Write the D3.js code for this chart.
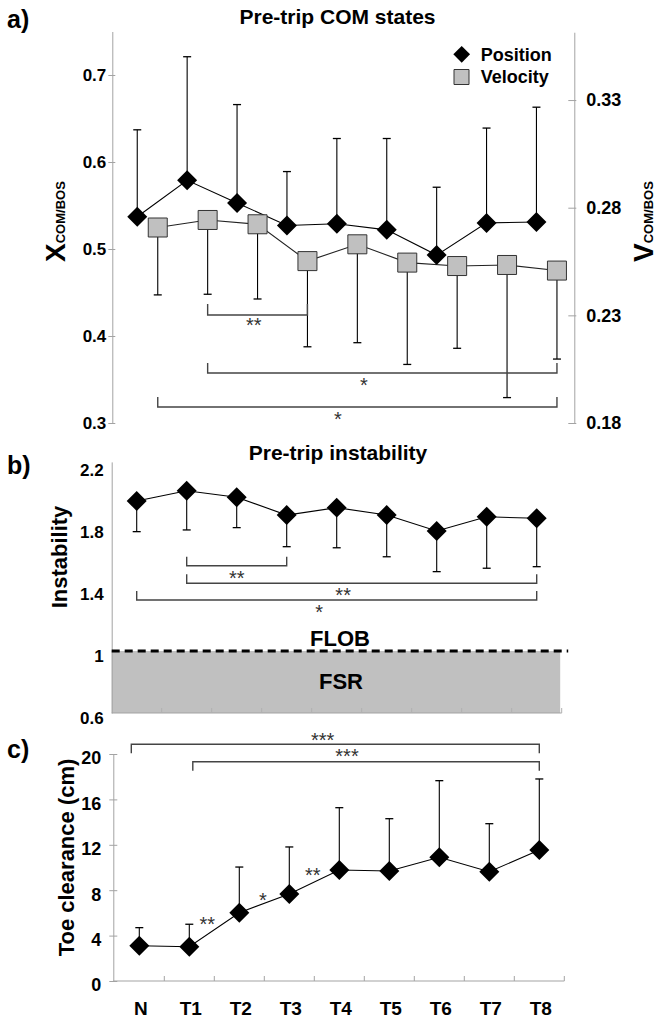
<!DOCTYPE html>
<html><head><meta charset="utf-8">
<script src="https://cdn.jsdelivr.net/npm/d3@7"></script>
<style>
body{margin:0;background:#fff}
svg{display:block}
text{font-family:"Liberation Sans",Arial,Helvetica,sans-serif}
</style>
</head><body>
<svg id="chart" width="661" height="1024"></svg>
<script>
// ---------- DATA ----------
const categories = ["N","T1","T2","T3","T4","T5","T6","T7","T8"];
// a) Pre-trip COM states
const positionMean  = [0.537,0.579,0.553,0.527,0.529,0.522,0.493,0.530,0.531];
const positionUpper = [0.637,0.721,0.666,0.589,0.627,0.627,0.571,0.639,0.663];
const velocityMean  = [0.2708,0.2743,0.2723,0.2552,0.2630,0.2545,0.2529,0.2534,0.2508];
const velocityLower = [0.2395,0.2398,0.2376,0.2154,0.2173,0.2072,0.2147,0.1918,0.2097];
const positionTicks = [0.3,0.4,0.5,0.6,0.7];
const velocityTicks = [0.18,0.23,0.28,0.33];
// b) Pre-trip instability
const instabilityMean  = [1.968,2.034,1.992,1.877,1.925,1.877,1.774,1.866,1.856];
const instabilityLower = [1.770,1.781,1.796,1.673,1.666,1.608,1.512,1.534,1.544];
const instabilityTicks = [0.6,1,1.4,1.8,2.2];
const flobValue = 1.0;
// c) Toe clearance
const toeMean  = [3.11,3.02,6.02,7.67,9.78,9.69,10.90,9.63,11.54];
const toeUpper = [4.70,5.00,10.04,11.81,15.27,14.30,17.65,13.86,17.80];
const toeTicks = [0,4,8,12,16,20];
// significance annotations
const sigA = [["T1","T3","**"],["T1","T8","*"],["N","T8","*"]];
const sigB = [["T1","T3","**"],["T1","T8","**"],["N","T8","*"]];
const sigC = [["N","T8","***"],["T1","T8","***"]];
const sigCSteps = [["T1","T2","**"],["T2","T3","*"],["T3","T4","**"]];

// ---------- HELPERS ----------
const svg = d3.select("#chart");
const AXC = "#a3a3a3";
const diamond = d3.symbol(d3.symbolSquare, 200);
const diamondSmall = d3.symbol(d3.symbolSquare, 140);
const squareSym = d3.symbol(d3.symbolSquare, 361);
const legendSquare = d3.symbol(d3.symbolSquare, 225);

function styleAxis(g, size){
  g.selectAll("path.domain").attr("stroke", AXC).attr("stroke-width",1);
  g.selectAll(".tick line").attr("stroke", AXC);
  g.selectAll(".tick text").attr("fill","#000").attr("font-weight","bold")
    .attr("font-size", size).attr("font-family",'"Liberation Sans",Arial,sans-serif');
}
function errorBars(g, xs, y, means, ends, capW){
  const d = means.map((m,i)=>({x:xs[i], m, e:ends[i]}));
  g.selectAll(null).data(d).join("line")
    .attr("x1",d=>d.x).attr("x2",d=>d.x)
    .attr("y1",d=>y(d.m)).attr("y2",d=>y(d.e))
    .attr("stroke","#000").attr("stroke-width",1.1);
  g.selectAll(null).data(d).join("line")
    .attr("x1",d=>d.x-capW/2).attr("x2",d=>d.x+capW/2)
    .attr("y1",d=>y(d.e)).attr("y2",d=>y(d.e))
    .attr("stroke","#000").attr("stroke-width",1.3);
}
function stars(g, x, y, txt){
  g.append("text").attr("x",x).attr("y",y+10).attr("text-anchor","middle")
    .attr("font-family",'"Liberation Serif","Times New Roman",serif')
    .attr("font-size",20).attr("fill","#333").text(txt);
}
function bracket(g, x1, x2, yLine, yEnd, labelX, labelY, txt){
  g.append("path")
    .attr("d",`M${x1},${yEnd}V${yLine}H${x2}V${yEnd}`)
    .attr("fill","none").attr("stroke","#444").attr("stroke-width",1.4);
  stars(g, labelX, labelY, txt);
}
function panelLabel(txt, y){
  svg.append("text").attr("x",7).attr("y",y).attr("font-size",25)
    .attr("font-weight","bold").text(txt);
}
function title(txt, x, y){
  svg.append("text").attr("x",x).attr("y",y).attr("text-anchor","middle")
    .attr("font-size",21).attr("font-weight","bold").text(txt);
}
function subLabel(x, y, main, sub){
  const t = svg.append("text").attr("transform",`translate(${x},${y}) rotate(-90)`)
    .attr("font-weight","bold");
  t.append("tspan").attr("font-size",28).text(main);
  t.append("tspan").attr("font-size",13).text(sub);
}

// ---------- PANEL A ----------
const gA = svg.append("g");
const xA = d3.scaleBand().domain(categories).range([112.3, 561.4]);
const cA = c => xA(c) + xA.bandwidth()/2;
const vOff = 20.5;
const yPos = d3.scaleLinear().domain([0.3,0.75]).range([423, 423-0.45*870]);
const yVel = d3.scaleLinear().domain([0.18,0.3615]).range([423, 423-0.1815*2153]);

const axL = gA.append("g").attr("transform","translate(112.3,0)")
  .call(d3.axisLeft(yPos).tickValues(positionTicks).tickFormat(d3.format(".1f")).tickSizeInner(4).tickSizeOuter(0).tickPadding(2));
axL.selectAll(".tick line").attr("x2",3).attr("x1",-4);
styleAxis(axL, 17);
const axR = gA.append("g").attr("transform","translate(574.3,0)")
  .call(d3.axisRight(yVel).tickValues(velocityTicks).tickFormat(d3.format(".2f")).tickSizeInner(-6).tickSizeOuter(0).tickPadding(12));
axR.selectAll(".tick line").attr("x2",-6).attr("x1",2);
styleAxis(axR, 18);

const posX = categories.map(cA);
const velX = categories.map(c=>cA(c)+vOff);
// error bars
errorBars(gA, posX, yPos, positionMean, positionUpper, 8);
errorBars(gA, velX, yVel, velocityMean, velocityLower, 8);
// lines
gA.append("path").datum(velocityMean)
  .attr("d", d3.line().x((d,i)=>velX[i]).y(d=>yVel(d)))
  .attr("fill","none").attr("stroke","#222").attr("stroke-width",1.1);
gA.append("path").datum(positionMean)
  .attr("d", d3.line().x((d,i)=>posX[i]).y(d=>yPos(d)))
  .attr("fill","none").attr("stroke","#000").attr("stroke-width",1.1);
// markers
gA.selectAll(null).data(velocityMean).join("path")
  .attr("d", squareSym).attr("transform",(d,i)=>`translate(${velX[i]},${yVel(d)})`)
  .attr("fill","#c0c0c0").attr("stroke","#333").attr("stroke-width",1);
gA.selectAll(null).data(positionMean).join("path")
  .attr("d", diamond).attr("transform",(d,i)=>`translate(${posX[i]},${yPos(d)}) rotate(45)`)
  .attr("fill","#000");
// brackets
const bracketLayoutA = [[315,304,0.463,322],[373,363,0.447,382],[407,397,0.451,416]];
sigA.forEach((s,i)=>{
  const [yl, ye, f, ly] = bracketLayoutA[i];
  const x1 = cA(s[0])+vOff, x2 = cA(s[1])+vOff;
  bracket(gA, x1, x2, yl, ye, x1+(x2-x1)*f, ly, s[2]);
});
// legend
gA.append("path").attr("d", diamondSmall).attr("transform","translate(461.7,54.3) rotate(45)").attr("fill","#000");
gA.append("text").attr("x",480.7).attr("y",60.8).attr("font-size",18).attr("font-weight","bold").text("Position");
gA.append("path").attr("d", legendSquare).attr("transform","translate(461.5,77)").attr("fill","#c0c0c0").attr("stroke","#333");
gA.append("text").attr("x",480.7).attr("y",83).attr("font-size",18).attr("font-weight","bold").text("Velocity");
panelLabel("a)", 28);
title("Pre-trip COM states", 337.5, 24);
subLabel(65, 262, "X", "COM/BOS");
subLabel(653, 262, "V", "COM/BOS");

// ---------- PANEL B ----------
const gB = svg.append("g");
const xB = d3.scaleBand().domain(categories).range([111.7, 561.7]);
const cB = c => xB(c) + xB.bandwidth()/2;
const yInst = d3.scaleLinear().domain([0.6,2.22]).range([713, 713-1.62*155]);
// FSR region
gB.append("rect").attr("x",xB.range()[0]).attr("width",xB.range()[1]-xB.range()[0]-1.5)
  .attr("y",yInst(flobValue)).attr("height",yInst(0.6)-yInst(flobValue)).attr("fill","#c0c0c0");
const axB = gB.append("g").attr("transform",`translate(${xB.range()[0]},0)`)
  .call(d3.axisLeft(yInst).tickValues(instabilityTicks).tickFormat(d=>d===1?"1":d3.format(".1f")(d)).tickSize(0).tickPadding(8));
axB.selectAll(".tick text").attr("dy","0.62em");
styleAxis(axB, 17);
// bottom axis
gB.append("line").attr("x1",xB.range()[0]).attr("x2",xB.range()[1]).attr("y1",yInst(0.6)).attr("y2",yInst(0.6)).attr("stroke",AXC);
gB.selectAll(null).data(categories).join("line")
  .attr("x1",c=>xB(c)+xB.bandwidth()).attr("x2",c=>xB(c)+xB.bandwidth())
  .attr("y1",yInst(0.6)).attr("y2",yInst(0.6)-5).attr("stroke","#b0b0b0");
// FLOB dashed
gB.append("line").attr("x1",xB.range()[0]).attr("x2",xB.range()[1]+6.5)
  .attr("y1",yInst(flobValue)).attr("y2",yInst(flobValue))
  .attr("stroke","#000").attr("stroke-width",3).attr("stroke-dasharray","8,5");
gB.append("text").attr("x",340).attr("y",645.5).attr("text-anchor","middle").attr("font-size",22).attr("font-weight","bold").text("FLOB");
gB.append("text").attr("x",341).attr("y",689).attr("text-anchor","middle").attr("font-size",22).attr("font-weight","bold").text("FSR");
const bX = categories.map(cB);
errorBars(gB, bX, yInst, instabilityMean, instabilityLower, 8);
gB.append("path").datum(instabilityMean)
  .attr("d", d3.line().x((d,i)=>bX[i]).y(d=>yInst(d)))
  .attr("fill","none").attr("stroke","#000").attr("stroke-width",1.1);
gB.selectAll(null).data(instabilityMean).join("path")
  .attr("d", diamond).attr("transform",(d,i)=>`translate(${bX[i]},${yInst(d)}) rotate(45)`)
  .attr("fill","#000");
const bracketLayoutB = [[565.7,556.7,0.5,575],[583.3,574.3,0.447,591.7],[600,591,0.456,609]];
sigB.forEach((s,i)=>{
  const [yl, ye, f, ly] = bracketLayoutB[i];
  const x1 = cB(s[0]), x2 = cB(s[1]);
  bracket(gB, x1, x2, yl, ye, x1+(x2-x1)*f, ly, s[2]);
});
panelLabel("b)", 474);
title("Pre-trip instability", 338, 460);
svg.append("text").attr("transform","translate(67,557) rotate(-90)").attr("text-anchor","middle")
  .attr("font-size",22).attr("font-weight","bold").text("Instability");

// ---------- PANEL C ----------
const gC = svg.append("g");
const xC = d3.scaleBand().domain(categories).range([114.3, 564.3]);
const cC = c => xC(c) + xC.bandwidth()/2;
const yToe = d3.scaleLinear().domain([0,20]).range([981, 754]);
const axC = gC.append("g").attr("transform","translate(113.3,0)")
  .call(d3.axisLeft(yToe).tickValues(toeTicks).tickSizeInner(4).tickSizeOuter(0).tickPadding(8));
axC.selectAll(".tick line").attr("x1",-4).attr("x2",4);
axC.selectAll(".tick text").attr("dy","0.55em");
styleAxis(axC, 18);
gC.append("line").attr("x1",113.3).attr("x2",xC.range()[1]).attr("y1",yToe(0)).attr("y2",yToe(0)).attr("stroke",AXC);
gC.selectAll(null).data(categories).join("line")
  .attr("x1",c=>xC(c)+xC.bandwidth()).attr("x2",c=>xC(c)+xC.bandwidth())
  .attr("y1",yToe(0)).attr("y2",yToe(0)-5).attr("stroke",AXC);
gC.selectAll(null).data(categories).join("text")
  .attr("x",c=>cC(c)+1.5).attr("y",1015).attr("text-anchor","middle")
  .attr("font-size",19).attr("font-weight","bold").text(c=>c);
const cX = categories.map(cC);
errorBars(gC, cX, yToe, toeMean, toeUpper, 8);
gC.append("path").datum(toeMean)
  .attr("d", d3.line().x((d,i)=>cX[i]).y(d=>yToe(d)))
  .attr("fill","none").attr("stroke","#000").attr("stroke-width",1.1);
gC.selectAll(null).data(toeMean).join("path")
  .attr("d", diamond).attr("transform",(d,i)=>`translate(${cX[i]},${yToe(d)}) rotate(45)`)
  .attr("fill","#000");
const bracketLayoutC = [[744.3,753.3,0.469,736.7,-8],[761.7,770.7,0.445,753.3,3.5]];
sigC.forEach((s,i)=>{
  const [yl, ye, f, ly, dx] = bracketLayoutC[i];
  const x1 = cC(s[0])+dx, x2 = cC(s[1]);
  bracket(gC, x1, x2, yl, ye, x1+(x2-x1)*f, ly, s[2]);
});
const stepLayout = [[0.36,-13],[0.47,-7],[0.47,-11]];
sigCSteps.forEach((s,i)=>{
  const [f, dy] = stepLayout[i];
  const i1 = categories.indexOf(s[0]), i2 = categories.indexOf(s[1]);
  const x = cX[i1]+(cX[i2]-cX[i1])*f;
  const y = yToe(toeMean[i1])+(yToe(toeMean[i2])-yToe(toeMean[i1]))*f + dy;
  stars(gC, x, y, s[2]);
});
panelLabel("c)", 758);
svg.append("text").attr("transform","translate(73.5,857.5) rotate(-90)").attr("text-anchor","middle")
  .attr("font-size",22).attr("font-weight","bold").text("Toe clearance (cm)");
</script>
</body></html>
